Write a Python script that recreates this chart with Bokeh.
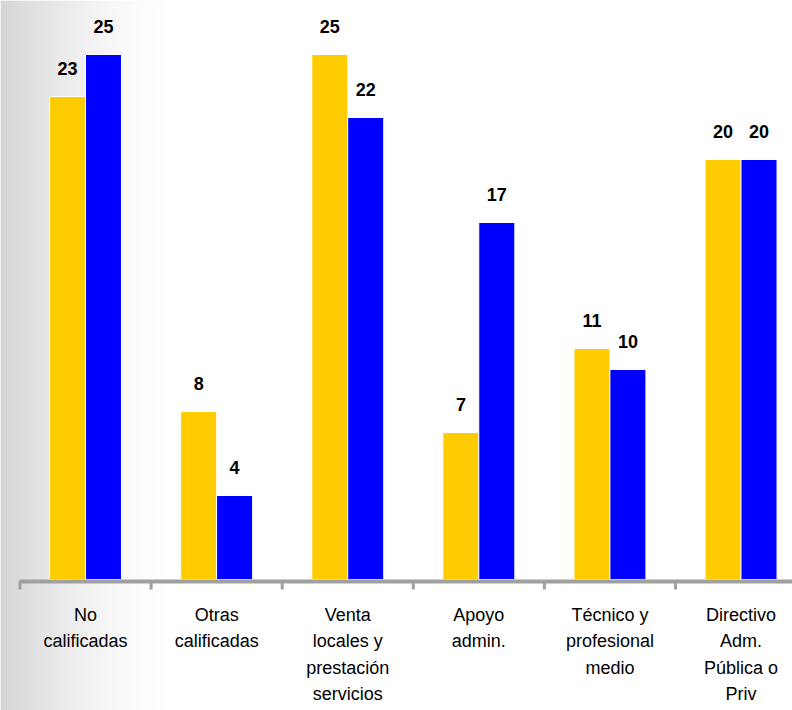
import numpy as np
from bokeh.plotting import figure
from bokeh.models import ColumnDataSource, Range1d
from bokeh.core.properties import value
from bokeh.embed import file_html
from bokeh.resources import INLINE

# Occupational groups and the two series (percentages)
categories = [
    "No\ncalificadas",
    "Otras\ncalificadas",
    "Venta\nlocales y\nprestación\nservicios",
    "Apoyo\nadmin.",
    "Técnico y\nprofesional\nmedio",
    "Directivo\nAdm.\nPública o\nPriv",
]
series_yellow = [23, 8, 25, 7, 11, 20]
series_blue = [25, 4, 22, 17, 10, 20]

YELLOW = "#FFCC00"
BLUE = "#0000FF"
FONT = "Liberation Sans"

W, H = 792, 710
# screen geometry: category width and value scale in pixels
CAT_PX = 131.1
X0_PX = 19.5          # pixel of the first category boundary
BASE_PX = 579         # pixel row of the zero line
UNIT_PX = 21.0        # pixels per percentage point

x_start = -X0_PX / CAT_PX
x_end = (W - X0_PX) / CAT_PX
y_end = BASE_PX / UNIT_PX
y_start = -(H - BASE_PX) / UNIT_PX

p = figure(width=W, height=H, output_backend="svg", toolbar_location=None,
           x_range=Range1d(x_start, x_end), y_range=Range1d(y_start, y_end),
           x_axis_type=None, y_axis_type=None, min_border=0,
           background_fill_color="white", border_fill_color="white",
           outline_line_color=None)
p.grid.visible = False

# soft grey shading on the left side of the canvas, easing out to white
fade_px = 175
step = 2
edges = np.arange(0, fade_px + step, step)
t = (edges[:-1] + step / 2) / fade_px
levels = (255 - 42 * (1 - t) ** 1.6).round().astype(int)
shade = ["#{0:02x}{0:02x}{0:02x}".format(v) for v in levels]
p.quad(left=x_start + edges[:-1] / CAT_PX, right=x_start + (edges[1:] + 0.6) / CAT_PX,
       bottom=y_start, top=y_end, fill_color=shade, line_color=None)

n = len(categories)
centers = np.arange(n) + 0.5
dodge = 0.137
bar_w = 0.275

src = ColumnDataSource(dict(
    xy=centers - dodge, xb=centers + dodge,
    yv=series_yellow, bv=series_blue,
    ylab=[str(v) for v in series_yellow], blab=[str(v) for v in series_blue],
    ylab_y=[v + 28 / UNIT_PX for v in series_yellow],
    blab_y=[v + 28 / UNIT_PX for v in series_blue],
))

p.vbar(x="xy", top="yv", bottom=0, width=bar_w, source=src,
       fill_color=YELLOW, line_color="white", line_width=1)
p.vbar(x="xb", top="bv", bottom=0, width=bar_w, source=src,
       fill_color=BLUE, line_color="white", line_width=1)

for xcol, ycol, tcol in (("xy", "ylab_y", "ylab"), ("xb", "blab_y", "blab")):
    p.text(x=xcol, y=ycol, text=tcol, source=src,
           text_font=value(FONT), text_font_size="18px", text_font_style="bold",
           text_color="black", text_align="center", text_baseline="middle")

# category axis: baseline, boundary ticks and wrapped labels
p.segment(x0=[0], y0=[-2 / UNIT_PX], x1=[n], y1=[-2 / UNIT_PX],
          line_color="#a0a0a0", line_width=4)
ticks = np.arange(n + 1)
p.segment(x0=ticks, y0=[-1 / UNIT_PX] * len(ticks), x1=ticks,
          y1=[-10 / UNIT_PX] * len(ticks), line_color="#a0a0a0", line_width=3)

p.text(x=centers, y=[-(604 - BASE_PX) / UNIT_PX] * n, text=categories,
       text_font=value(FONT), text_font_size="18px", text_color="black",
       text_align="center", text_baseline="top", text_line_height=1.33)

open("out.html", "w").write(file_html(p, INLINE))
